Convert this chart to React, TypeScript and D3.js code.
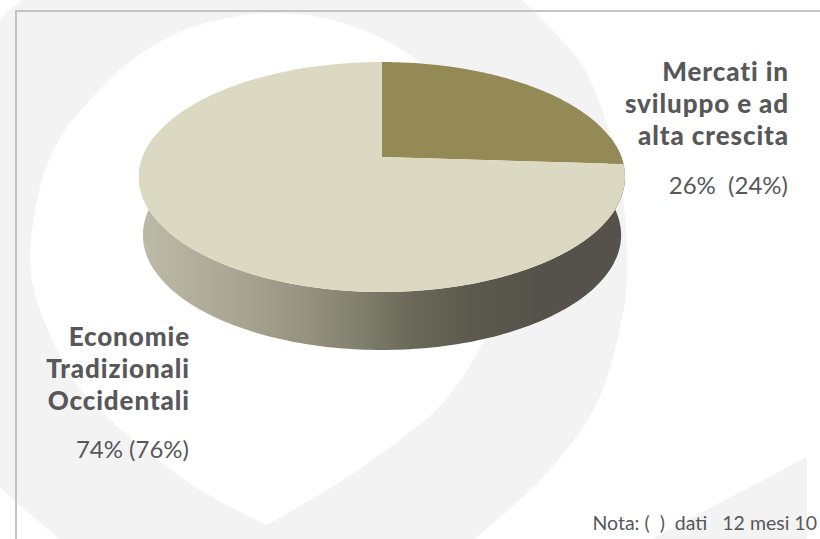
import React from "react";
import * as d3 from "d3";

// Share of revenue by market group (current period, previous period in brackets)
const categories = ["Mercati in sviluppo e ad alta crescita", "Economie Tradizionali Occidentali"];
const currentShare = [26, 74];
const sliceColors = ["#948a55", "#dcd9c3"];

const upperLabel = ["Mercati in", "sviluppo e ad", "alta crescita"];
const upperValue = "26%  (24%)";
const lowerLabel = ["Economie", "Tradizionali", "Occidentali"];
const lowerValue = "74% (76%)";
const footnote = "Nota: (  )  dati   12 mesi 10";

// Watermark outlines behind the chart
const outerRight: [number, number][] = [
  [520, -2], [555, 33], [583, 67], [610, 133], [622, 190], [627, 250], [627, 280], [623, 313], [597, 403], [543, 477], [467, 545],
];
const outerLeft: [number, number][] = [[65, 545], [57, 537], [17, 503], [-6, 481], [-6, 24], [28, -6]];
const innerMark: [number, number][] = [
  [267, 525], [200, 490], [133, 440], [100, 410], [73, 380], [48, 330], [37, 300], [30, 262], [42, 180], [63, 133], [90, 100], [123, 67], [177, 33], [233, 17], [270, 13], [333, 20], [410, 55], [480, 130], [505, 220], [500, 300], [483, 343], [443, 403], [410, 432], [340, 482], [267, 525],
];
const cornerMark: [number, number][] = [[807, 457], [807, 545], [640, 545]];

const width = 820;
const height = 539;

// Perspective projection of the pie disc on to the page
const apex = { x: 382, y: 157 };
const tilt = { a: 239.3, b: 111.5, q: 0.174 };
const wallDrop = 58;
const wallNarrowing = 0.016;

function project(angle: number): [number, number] {
  const u = Math.sin(angle);
  const v = -Math.cos(angle);
  const w = 1 - tilt.q * v;
  return [apex.x + (tilt.a * u) / w, apex.y + (tilt.b * v) / w];
}

const arcs = d3.pie<number>().sort(null).value((d) => d)(currentShare);
const lineGen = d3.line();

function slicePath(start: number, end: number) {
  const steps = d3.range(0, 121).map((i) => start + ((end - start) * i) / 120);
  const pts: [number, number][] = [[apex.x, apex.y], ...steps.map((a) => project(a))];
  return lineGen(pts) + "Z";
}

// Front wall: the rim between the two side extremes, and the same rim dropped down
function wallPath() {
  const steps = d3.range(0, 181).map((i) => Math.PI * 0.44 + (Math.PI * 1.12 * i) / 180);
  const rim = steps.map((a) => project(a));
  const dropped = rim
    .map(([x, y]) => [x + (apex.x - x) * wallNarrowing, y + wallDrop] as [number, number])
    .reverse();
  return lineGen([...rim, ...dropped]) + "Z";
}

const wallStops: [number, string][] = [
  [139, "#bdbba7"],
  [230, "#aaa894"],
  [300, "#979582"],
  [363, "#7f7d6b"],
  [410, "#6b6959"],
  [470, "#5c5a4e"],
  [540, "#54524a"],
  [625, "#54524a"],
];

const watermark = "#f3f3f4";
const smooth = d3.line().curve(d3.curveCatmullRom.alpha(0.5));
const textColor = "#58585a";
const fontFamily = "Lato, 'Open Sans', sans-serif";

function TextBlock({ x, lines, first, value, valueY }: { x: number; lines: string[]; first: number; value: string; valueY: number }) {
  return (
    <g textAnchor="end" fontFamily={fontFamily} fill={textColor}>
      {lines.map((t, i) => (
        <text key={t} x={x + 1} y={first + i * 32} fontSize={26} fontWeight={900} letterSpacing={0.9}>
          {t}
        </text>
      ))}
      <text x={x} y={valueY} fontSize={24} style={{ whiteSpace: "pre" }}>
        {value}
      </text>
    </g>
  );
}

export default function App() {
  return (
    <svg width={width} height={height} style={{ position: "fixed", left: 0, top: 0 }}>
      <defs>
        <linearGradient id="wall" gradientUnits="userSpaceOnUse" x1={139} x2={625} y1={0} y2={0}>
          {wallStops.map(([x, c]) => (
            <stop key={x} offset={(x - 139) / 486} stopColor={c} />
          ))}
        </linearGradient>
      </defs>
      <rect width={width} height={height} fill="#fff" />
      <path d={smooth(outerRight)! + "L" + outerLeft.map((p) => p.join(",")).join("L") + "Z"} fill={watermark} />
      <path d={smooth(innerMark)! + "Z"} fill="#fff" />
      <path d={lineGen(cornerMark)! + "Z"} fill={watermark} />
      <path d="M16,539V11H820" fill="none" stroke="#c4c4c4" strokeWidth={2} />

      <path d={wallPath()} fill="url(#wall)" />
      {arcs.map((a, i) => (
        <path key={categories[i]} d={slicePath(a.startAngle, a.endAngle)} fill={sliceColors[i]} />
      ))}

      <TextBlock x={788} lines={upperLabel} first={81} value={upperValue} valueY={194} />
      <TextBlock x={189} lines={lowerLabel} first={346} value={lowerValue} valueY={458} />
      <text x={817} y={530} textAnchor="end" fontFamily={fontFamily} fontSize={19.5} fill={textColor} style={{ whiteSpace: "pre" }}>
        {footnote}
      </text>
    </svg>
  );
}
